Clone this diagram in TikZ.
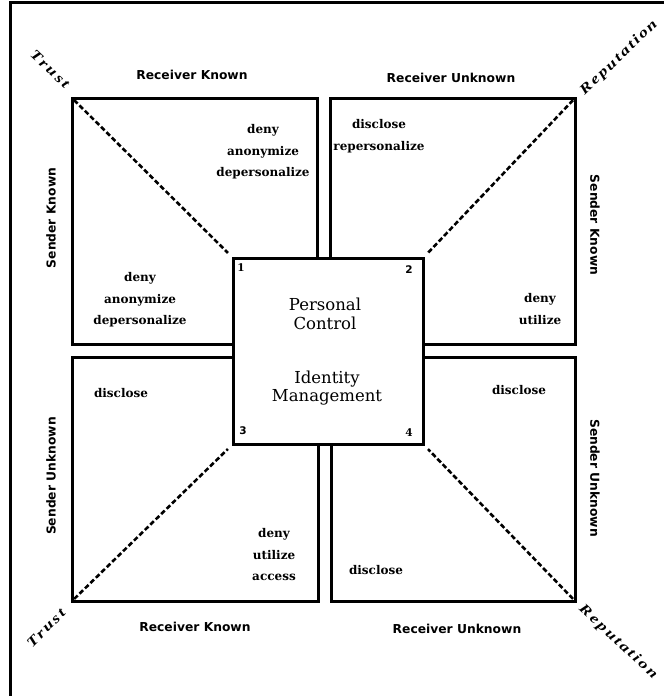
\documentclass[tikz,border=0pt]{standalone}
\usepackage{fontspec}
\newfontfamily\actfont{DejaVu Serif}
\newfontfamily\labfont{DejaVu Sans}
\newfontfamily\ctrfont{DejaVu Serif}
\newfontfamily\slfont{Liberation Serif}[FakeStretch=1.3, LetterSpace=15]
\tikzset{
  quadbox/.style={draw, line width=3pt, inner sep=0pt},
  ctrbox/.style={draw, line width=3pt, fill=white, inner sep=0pt,
                 minimum width=190pt, minimum height=186pt},
  diag/.style={line width=2.6pt, dash pattern=on 5pt off 2.6pt,
               shorten <=5pt, shorten >=5pt},
  act/.style={font=\actfont\bfseries\fontsize{12}{21.5}\selectfont,
              align=center, inner sep=0pt},
  axislab/.style={font=\labfont\bfseries\fontsize{12.3}{14}\selectfont,
                  inner sep=0pt},
  ctrtext/.style={font=\ctrfont\fontsize{16.5}{18.5}\selectfont,
                  align=center, inner sep=0pt},
  numser/.style={font=\actfont\bfseries\fontsize{10.5}{12}\selectfont, inner sep=0pt},
  numsans/.style={font=\labfont\bfseries\fontsize{10.5}{12}\selectfont, inner sep=0pt},
  slant/.style={font=\slfont\bfseries\itshape\fontsize{14}{16}\selectfont, inner sep=0pt}
}
\begin{document}
\begin{tikzpicture}[x=1pt, y=-1pt]
  \useasboundingbox (0,0) rectangle (664,696);

  % outer frame (left and top edges)
  \draw[line width=2.2pt] (10.5,696) -- (10.5,2.5) -- (664,2.5);

  % four quadrant boxes
  \node[quadbox, minimum width=245.5pt, minimum height=246.5pt] (q1) at (194.75,221.25) {};
  \node[quadbox, minimum width=244.5pt, minimum height=246pt]   (q2) at (452.75,221) {};
  \node[quadbox, minimum width=246pt,   minimum height=244pt]   (q3) at (195,479) {};
  \node[quadbox, minimum width=244pt,   minimum height=244pt]   (q4) at (453,479) {};

  % central box
  \node[ctrbox] (ctr) at (328,351) {};

  % dashed diagonals from the outer corners to the central box
  \draw[diag] (q1.north west) -- (ctr.north west);
  \draw[diag] (q2.north east) -- (ctr.north east);
  \draw[diag] (q3.south west) -- (ctr.south west);
  \draw[diag] (q4.south east) -- (ctr.south east);

  % central text
  \node[ctrtext] (pc) at (325,314) {Personal\\Control};
  \node[ctrtext] (im) at (327,388) {Identity\\Management};
  \node[numser]  (n1) at (241,268) {1};
  \node[numsans] (n2) at (409,270) {2};
  \node[numsans] (n3) at (243,431) {3};
  \node[numser]  (n4) at (409,433) {4};

  % actions inside the quadrants
  \node[act] (a1) at (263,152) {deny\\anonymize\\depersonalize};
  \node[act] (a2) at (140,300) {deny\\anonymize\\depersonalize};
  \node[act] (a3) at (379,136) {disclose\\repersonalize};
  \node[act] (a4) at (540,309) {deny\\utilize};
  \node[act] (a5) at (121,393) {disclose};
  \node[act] (a6) at (274,555) {deny\\utilize\\access};
  \node[act] (a7) at (519,390) {disclose};
  \node[act] (a8) at (376,570) {disclose};

  % axis labels
  \node[axislab] (rk1) at (192,75)  {Receiver Known};
  \node[axislab] (ru1) at (451,78)  {Receiver Unknown};
  \node[axislab] (rk2) at (195,627) {Receiver Known};
  \node[axislab] (ru2) at (457,629) {Receiver Unknown};
  \node[axislab, rotate=90]  (sk1) at (51,218)  {Sender Known};
  \node[axislab, rotate=-90] (sk2) at (595,225) {Sender Known};
  \node[axislab, rotate=90]  (su1) at (51,476)  {Sender Unknown};
  \node[axislab, rotate=-90] (su2) at (595,478) {Sender Unknown};

  % corner words along the diagonals
  \node[slant, rotate=-43] (t1) at (50,69)   {Trust};
  \node[slant, rotate=45]  (t2) at (46,628)  {Trust};
  \node[slant, rotate=44]  (r1) at (619,58)  {Reputation};
  \node[slant, rotate=-43] (r2) at (618,642) {Reputation};
\end{tikzpicture}
\end{document}
